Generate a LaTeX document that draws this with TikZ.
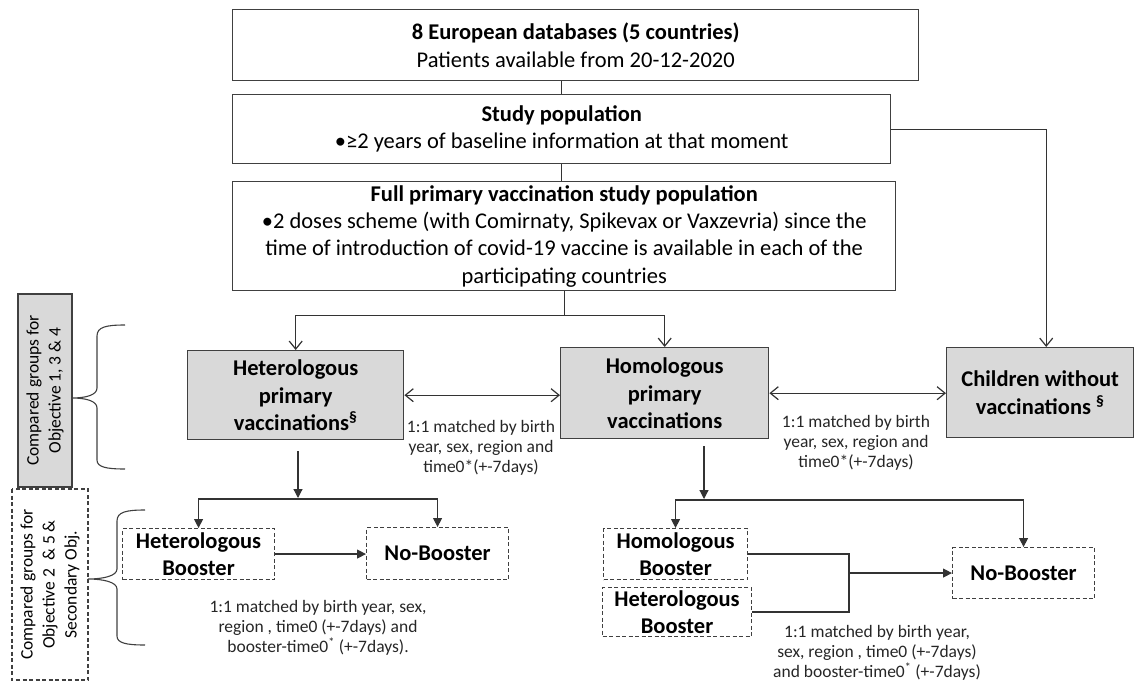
\documentclass[tikz,border=0pt]{standalone}
\usepackage{fontspec}
\setmainfont{Carlito}
\usetikzlibrary{arrows.meta}
\newcommand\bigtxt{\fontsize{22.5}{27.3}\selectfont}
\newcommand\smalltxt{\fontsize{17.5}{20}\selectfont}
\newcommand\sidetxt{\fontsize{17.5}{22}\selectfont}
\begin{document}
\begin{tikzpicture}[x=1pt,y=-1pt,
  box/.style={draw=black!75, line width=1.4pt, fill=white, inner sep=0pt,
              align=center, font=\bigtxt, anchor=north west},
  grp/.style={box, fill=black!15, font=\bigtxt\bfseries},
  dbox/.style={box, line width=1.1pt, dash pattern=on 4pt off 2.5pt, font=\bigtxt\bfseries},
  side/.style={draw=black!75, line width=1.3pt, inner sep=0pt, align=center,
               font=\sidetxt, rotate=90},
  lbl/.style={align=center, font=\smalltxt, text=black!85, inner sep=0pt},
  ln/.style={draw=black!80, line width=1.2pt},
  oarr/.style={ln, -{Straight Barb[length=8pt,width=13pt]}},
  darr/.style={ln, {Straight Barb[length=8pt,width=13pt]}-{Straight Barb[length=8pt,width=13pt]}},
  farr/.style={ln, -{Triangle[length=9pt,width=9pt]}},
  brace/.style={draw=black!75, line width=1.1pt}
]
\useasboundingbox (0,0) rectangle (1134,682);

% top stack of population boxes
\node[box, minimum width=686, minimum height=71] (b1) at (232,9)
  {\textbf{8 European databases (5 countries)}\\Patients available from 20-12-2020};
\node[box, minimum width=658, minimum height=69] (b2) at (232,94)
  {\textbf{Study population}\\•≥2 years of baseline information at that moment};
\node[box, minimum width=663, minimum height=109] (b3) at (232,181)
  {\textbf{Full primary vaccination study population}\\
   •2 doses scheme (with Comirnaty, Spikevax or Vaxzevria) since the\\
   time of introduction of covid-19 vaccine is available in each of the\\
   participating countries};

% compared groups
\node[grp, minimum width=216, minimum height=89] (het) at (187,350)
  {Heterologous\\primary\\vaccinations\textsuperscript{§}};
\node[grp, minimum width=208, minimum height=91] (hom) at (560,347)
  {Homologous\\primary\\vaccinations};
\node[grp, minimum width=187, minimum height=90] (child) at (946,347)
  {Children without\\vaccinations \textsuperscript{§}};

% booster groups
\node[dbox, minimum width=152, minimum height=51] (hb1) at (122,528) {Heterologous\\[-1pt]Booster};
\node[dbox, minimum width=142, minimum height=52] (nb1) at (366,527) {No-Booster};
\node[dbox, minimum width=144, minimum height=51] (hb2) at (603,528) {Homologous\\[-1pt]Booster};
\node[dbox, minimum width=149, minimum height=49] (hx2) at (602,587) {Heterologous\\[-1pt]Booster};
\node[dbox, minimum width=142, minimum height=51] (nb2) at (952,547) {No-Booster};

% side captions
\node[side, fill=black!15, minimum width=193, minimum height=54] (g1) at (45,390.5)
  {Compared groups for\\Objective 1, 3 \& 4};
\node[side, dash pattern=on 4pt off 2.5pt, line width=1.1pt, minimum width=191, minimum height=76] (g2) at (50,584.5)
  {Compared groups for\\Objective 2~ \& 5 \&\\Secondary Obj.};

% matching notes
\node[lbl] (l1) at (481,448) {1:1 matched by birth\\year, sex, region and\\time0*(+-7days)};
\node[lbl] (l2) at (856,443) {1:1 matched by birth\\year, sex, region and\\time0*(+-7days)};
\node[lbl] (l3) at (318,628) {1:1 matched by birth year, sex,\\region , time0 (+-7days) and\\booster-time0\textsuperscript{*} (+-7days).};
\node[lbl] (l4) at (877,653) {1:1 matched by birth year,\\sex, region , time0 (+-7days)\\and booster-time0\textsuperscript{*} (+-7days)};

% flow between the top boxes
\draw[ln] (b2.north |- b1.south) -- (b2.north);
\draw[ln] (b2.south) -- (b2.south |- b3.north);
\draw[ln] (b3.south) -- ++(0,24) coordinate (split);
\draw[oarr] (split) -| (het.north);
\draw[oarr] (split) -| (hom.north);
\draw[oarr] (b2.east) -| ([xshift=6pt]child.north);

% matched comparisons
\draw[darr] (het.east) -- (het.east -| hom.west);
\draw[darr] (hom.east) -- (hom.east -| child.west);

% heterologous branch
\coordinate (hetfork) at (298,499);
\draw[farr] ([yshift=-11pt]het.south -| hetfork) -- ([yshift=1pt]hetfork);
\draw[farr] (hetfork) -| (hb1.north);
\draw[farr] (hetfork) -| (nb1.north);
\draw[farr] (hb1.east) -- (hb1.east -| nb1.west);

% homologous branch
\coordinate (homfork) at (704,500);
\draw[farr] ([yshift=-7pt]hom.south -| homfork) -- ([yshift=1pt]homfork);
\draw[farr] (homfork) -| (hb2.north);
\draw[farr] (homfork) -| (nb2.north);
\coordinate (join) at (849,574);
\draw[ln] (hb2.east) -- (hb2.east -| join) -- (hx2.east -| join) -- (hx2.east);
\draw[farr] (nb2.west -| join) -- (nb2.west);

% braces
\draw[brace] (125,325) .. controls (106,325) and (97,327) .. (97,336) -- (97,388)
  .. controls (97,395) and (86,398) .. (72,398)
  .. controls (86,398) and (97,401) .. (97,408) -- (97,460)
  .. controls (97,467) and (106,469) .. (125,469);
\draw[brace] (145,510) .. controls (126,510) and (117,512) .. (117,521) -- (117,569)
  .. controls (117,576) and (103,579) .. (88,579)
  .. controls (103,579) and (117,582) .. (117,589) -- (117,636)
  .. controls (117,643) and (126,645) .. (145,645);
\end{tikzpicture}
\end{document}
